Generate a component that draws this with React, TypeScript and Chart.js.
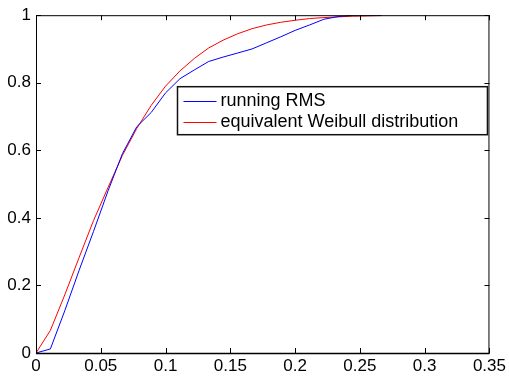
import React, { useEffect, useRef } from "react";
import { Chart, registerables } from "chart.js";

Chart.register(...registerables);

const xValues = [0, 0.0111, 0.0222, 0.0333, 0.0444, 0.0556, 0.0667, 0.0778, 0.0889, 0.1, 0.1111, 0.1222, 0.1333, 0.1444, 0.1556, 0.1667, 0.1778, 0.1889, 0.2, 0.2111, 0.2222, 0.2333, 0.2444, 0.2556, 0.2667];
const runningRms = [0, 0.012, 0.125, 0.245, 0.36, 0.48, 0.59, 0.67, 0.712, 0.77, 0.812, 0.838, 0.863, 0.876, 0.888, 0.9, 0.918, 0.936, 0.955, 0.971, 0.988, 0.996, 1.0, 1.0, 1.0];
const weibull = [0, 0.067, 0.172, 0.283, 0.392, 0.49, 0.585, 0.665, 0.733, 0.79, 0.835, 0.872, 0.903, 0.926, 0.945, 0.96, 0.971, 0.979, 0.985, 0.99, 0.993, 0.995, 0.997, 0.998, 0.999];
const seriesLabels = ["running RMS", "equivalent Weibull distribution"];
const xTickStep = 0.05;
const yTickStep = 0.2;

const FONT = "'Liberation Sans', Arial, Helvetica, sans-serif";

const framePlugin = {
  id: "frame",
  afterDatasetsDraw(chart: any) {
    const { ctx, chartArea } = chart;
    const { left, right, top, bottom } = chartArea;
    const xs = chart.scales.x;
    const ys = chart.scales.y;
    ctx.save();
    ctx.strokeStyle = "#000";
    ctx.lineWidth = 1;
    ctx.beginPath();
    ctx.rect(left + 0.5, top + 0.5, right - left - 1, bottom - top);
    ctx.stroke();
    const tl = 5;
    ctx.beginPath();
    xs.ticks.forEach((t: any) => {
      const px = Math.round(xs.getPixelForValue(t.value)) + 0.5;
      ctx.moveTo(px, bottom);
      ctx.lineTo(px, bottom - tl);
      ctx.moveTo(px, top);
      ctx.lineTo(px, top + tl);
    });
    ys.ticks.forEach((t: any) => {
      const py = Math.round(ys.getPixelForValue(t.value)) + 0.5;
      ctx.moveTo(left, py);
      ctx.lineTo(left + tl, py);
      ctx.moveTo(right, py);
      ctx.lineTo(right - tl, py);
    });
    ctx.stroke();
    ctx.lineWidth = 1.5;
    ctx.beginPath();
    ctx.moveTo(left, bottom + 0.5);
    ctx.lineTo(right, bottom + 0.5);
    ctx.stroke();
    ctx.restore();
  },
  afterDraw(chart: any) {
    const { ctx, chartArea } = chart;
    const bx = 177.5;
    const by = chartArea.top + 71.5;
    const bw = chartArea.right - 2 - bx;
    const bh = 48;
    ctx.save();
    ctx.fillStyle = "#fff";
    ctx.fillRect(bx, by, bw, bh);
    ctx.strokeStyle = "#111";
    ctx.lineWidth = 1.5;
    ctx.strokeRect(bx, by, bw, bh);
    ctx.font = `18px ${FONT}`;
    ctx.textBaseline = "middle";
    ctx.textAlign = "left";
    chart.data.datasets.forEach((ds: any, i: number) => {
      const cy = by + 14 + i * 21;
      ctx.strokeStyle = ds.borderColor;
      ctx.lineWidth = 1;
      ctx.beginPath();
      ctx.moveTo(bx + 6, Math.round(cy) + 0.5);
      ctx.lineTo(bx + 39, Math.round(cy) + 0.5);
      ctx.stroke();
      ctx.fillStyle = "#000";
      ctx.fillText(ds.label, bx + 43, cy);
    });
    ctx.restore();
  },
};

export default function App() {
  const canvasRef = useRef<HTMLCanvasElement | null>(null);

  useEffect(() => {
    if (!canvasRef.current) return;
    const chart = new Chart(canvasRef.current, {
      type: "line",
      data: {
        datasets: [
          {
            label: seriesLabels[0],
            data: xValues.map((x, i) => ({ x, y: runningRms[i] })),
            borderColor: "#0000ff",
            borderWidth: 1,
            pointRadius: 0,
            tension: 0,
            fill: false,
          },
          {
            label: seriesLabels[1],
            data: xValues.map((x, i) => ({ x, y: weibull[i] })),
            borderColor: "#ff0000",
            borderWidth: 1,
            pointRadius: 0,
            tension: 0,
            fill: false,
          },
        ],
      },
      options: {
        animation: false,
        responsive: false,
        maintainAspectRatio: false,
        layout: { padding: { top: 12, right: 18, left: 0, bottom: 0 } },
        plugins: { legend: { display: false }, tooltip: { enabled: false } },
        scales: {
          x: {
            type: "linear",
            min: 0,
            max: 0.35,
            grid: { display: false, drawTicks: false },
            border: { display: false },
            ticks: {
              stepSize: xTickStep,
              padding: 3,
              color: "#000",
              font: { family: FONT, size: 17 },
              maxRotation: 0,
              autoSkip: false,
              callback: (v: any) => String(Number(Number(v).toFixed(2))),
            },
            afterFit: (s: any) => {
              s.height = 26;
            },
          },
          y: {
            type: "linear",
            min: 0,
            max: 1,
            grid: { display: false, drawTicks: false },
            border: { display: false },
            ticks: {
              stepSize: yTickStep,
              padding: 5,
              color: "#000",
              font: { family: FONT, size: 17 },
              autoSkip: false,
              callback: (v: any) => String(Number(Number(v).toFixed(2))),
            },
            afterFit: (s: any) => {
              s.width = 36;
            },
          },
        },
      },
      plugins: [framePlugin],
    });
    return () => chart.destroy();
  }, []);

  return (
    <div style={{ position: "fixed", left: 0, top: 0, width: 509, height: 379, background: "#fff" }}>
      <canvas ref={canvasRef} width={509} height={379} style={{ width: 509, height: 379, display: "block" }} />
    </div>
  );
}
